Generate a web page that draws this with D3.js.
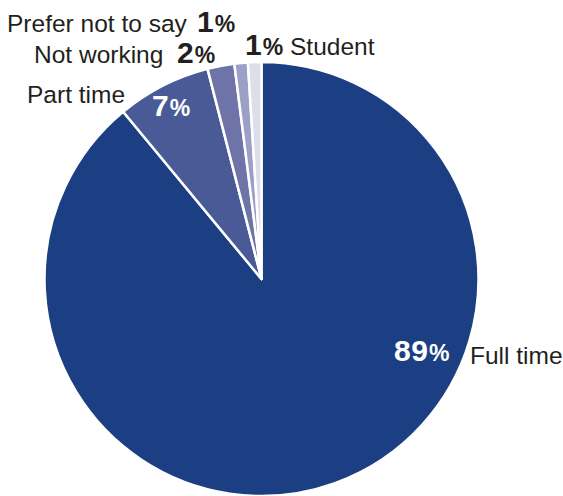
<!DOCTYPE html>
<html>
<head>
<meta charset="utf-8">
<script src="https://cdn.jsdelivr.net/npm/d3@7"></script>
<style>
  html, body { margin: 0; padding: 0; background: #fff; }
  svg { display: block; font-family: "Liberation Sans", Arial, Helvetica, sans-serif; }
</style>
</head>
<body>
<svg id="chart" width="563" height="496"></svg>
<script>
// Employment status shares (percent)
const categories = ["Full time", "Part time", "Not working", "Prefer not to say", "Student"];
const shares = [89, 7, 2, 1, 1];
const sliceColors = ["#1c3f84", "#4a5a97", "#6e74a8", "#9c9fc6", "#dcdee9"];

// Where each category's name and value are written
const labelLayout = {
  "Full time":         { nameX: 470, nameY: 364, valueX: 394, valueY: 361, valueFill: "#ffffff" },
  "Part time":         { nameX: 27,  nameY: 103, valueX: 152, valueY: 116, valueFill: "#ffffff" },
  "Not working":       { nameX: 34,  nameY: 63,  valueX: 177, valueY: 63,  valueFill: "#231f20" },
  "Prefer not to say": { nameX: 7,   nameY: 32,  valueX: 197, valueY: 32,  valueFill: "#231f20" },
  "Student":           { nameX: 290, nameY: 55,  valueX: 245, valueY: 55,  valueFill: "#231f20" }
};

const data = categories.map((c, i) => ({ category: c, value: shares[i] }));

const svg = d3.select("#chart");
const cx = 261.5, cy = 279, radius = 217;

const color = d3.scaleOrdinal().domain(categories).range(sliceColors);

const pie = d3.pie().value(d => d.value).sort(null);
const arc = d3.arc().innerRadius(0).outerRadius(radius);

const g = svg.append("g").attr("transform", `translate(${cx},${cy})`);

g.selectAll("path.slice")
  .data(pie(data))
  .join("path")
  .attr("class", "slice")
  .attr("d", arc)
  .attr("fill", d => color(d.data.category))
  .attr("stroke", "#ffffff")
  .attr("stroke-width", 2.5)
  .attr("stroke-linejoin", "round");

// Category names
svg.selectAll("text.name")
  .data(data)
  .join("text")
  .attr("class", "name")
  .attr("x", d => labelLayout[d.category].nameX)
  .attr("y", d => labelLayout[d.category].nameY)
  .attr("font-size", 24.5)
  .attr("fill", "#231f20")
  .text(d => d.category);

// Percentage values: bold number with a smaller percent sign
const values = svg.selectAll("text.value")
  .data(data)
  .join("text")
  .attr("class", "value")
  .attr("x", d => labelLayout[d.category].valueX)
  .attr("y", d => labelLayout[d.category].valueY)
  .attr("font-weight", "bold")
  .attr("fill", d => labelLayout[d.category].valueFill);

values.append("tspan")
  .attr("font-size", 30)
  .attr("letter-spacing", 0.5)
  .text(d => d.value);

values.append("tspan")
  .attr("font-size", 23)
  .attr("dx", 0.5)
  .text("%");
</script>
</body>
</html>
